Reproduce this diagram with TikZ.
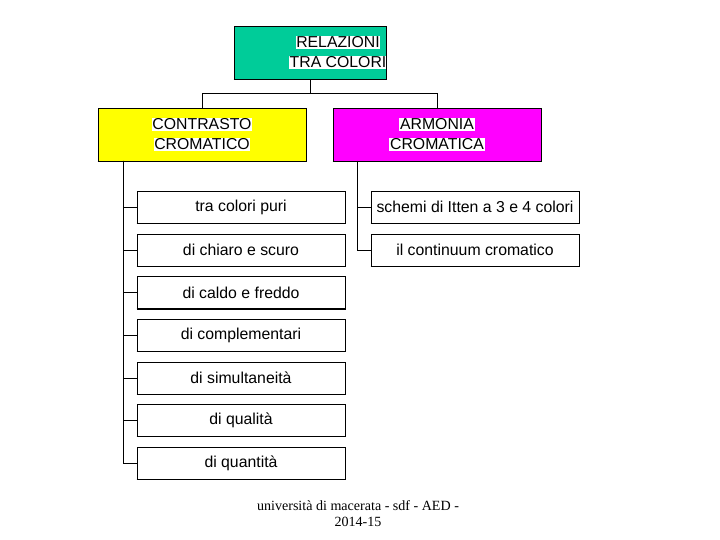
\documentclass[tikz,border=0pt]{standalone}
\usepackage{fontspec}
\setmainfont{Liberation Serif}
\newfontfamily\boxfont{Liberation Sans}
\usetikzlibrary{positioning}

\definecolor{verdeacqua}{RGB}{0,204,153}
\definecolor{giallo}{RGB}{255,255,0}
\definecolor{magenta}{RGB}{255,0,255}

\newcommand{\hl}[1]{{\setlength{\fboxsep}{0.6pt}\colorbox{white}{#1}}}

\tikzset{
  cartella/.style={draw,line width=0.5pt,align=center,inner sep=0pt,
    font=\boxfont\fontsize{13.5}{17}\selectfont},
  titolo/.style={cartella,minimum width=4.56cm,minimum height=1.59cm},
  ramo/.style={cartella,minimum width=6.24cm,minimum height=1.59cm},
  voce/.style={cartella,fill=white,minimum width=6.24cm,minimum height=0.96cm},
  filo/.style={line width=0.6pt},
}

\begin{document}
\begin{tikzpicture}[x=0.03cm,y=-0.03cm]
  \useasboundingbox (0,0) rectangle (720,540);
  %radice
  \node[titolo,fill=verdeacqua,
    label={[cartella,draw=none,xshift=0.84cm]center:{\hl{RELAZIONI}\\\hl{TRA COLORI}}}]
    (rel) at (310,52.5) {};
  %rami
  \node[ramo,fill=giallo] (contr) at (202,134.5) {\hl{CONTRASTO}\\\hl{CROMATICO}};
  \node[ramo,fill=magenta] (arm) at (437,134.5) {\hl{ARMONIA}\\\hl{CROMATICA}};
  \coordinate (nodo) at (310,93);
  \draw[filo] (rel.south) -- (nodo);
  \draw[filo] (nodo) -| (contr.north);
  \draw[filo] (nodo) -| (arm.north);

  %contrasto
  \node[voce] (c1) at (241,207) {tra colori puri};
  \node[voce] (c2) at (241,250) {di chiaro e scuro};
  \node[voce] (c3) at (241,292.5) {di caldo e freddo};
  \node[voce] (c4) at (241,335) {di complementari};
  \node[voce] (c5) at (241,378) {di simultaneità};
  \node[voce] (c6) at (241,420) {di qualità};
  \node[voce] (c7) at (241,463) {di quantità};
  \coordinate (tc) at (123,161);
  \foreach \n in {c1,c2,c3,c4,c5,c6,c7}
    \draw[filo] (tc) |- (\n.west);

  %armonia
  \node[voce] (a1) at (475,207) {schemi di Itten a 3 e 4 colori};
  \node[voce] (a2) at (475,250) {il continuum cromatico};
  \coordinate (ta) at (357,161);
  \foreach \n in {a1,a2}
    \draw[filo] (ta) |- (\n.west);

  %bordo in ombra
  \foreach \n in {rel,contr,arm,c1,c2,c3,c4,c5,c6,c7,a1,a2}
    \draw[line width=1.3pt] (\n.south west) -- (\n.south east) -- (\n.north east);

  %piede
  \node[align=center,font=\fontsize{12}{13.6}\selectfont] (piede) at (358,514)
    {università di macerata - sdf - AED -\\2014-15};
\end{tikzpicture}
\end{document}
